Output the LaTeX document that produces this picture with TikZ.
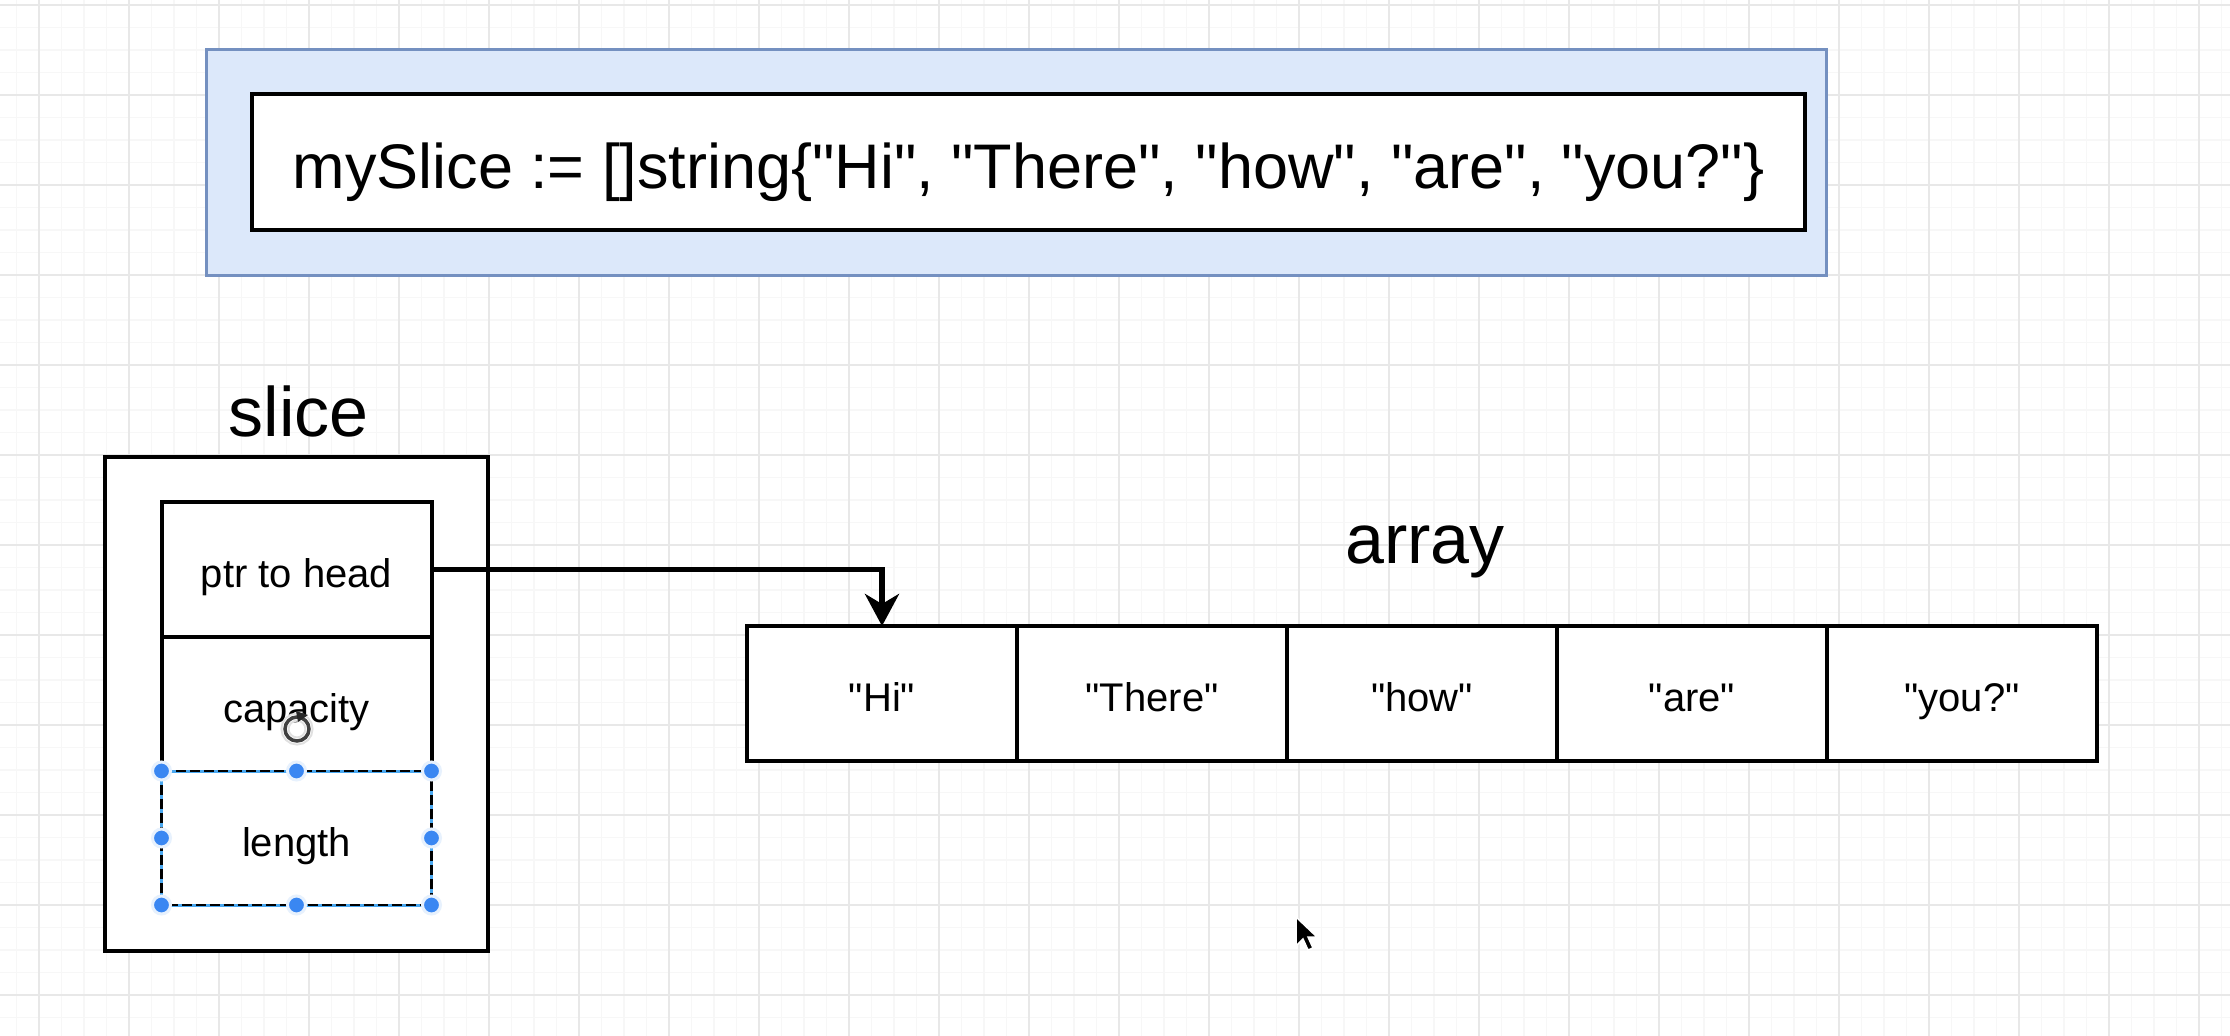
\documentclass[tikz,border=0pt]{standalone}
\usepackage{fontspec}
\setmainfont{Liberation Sans}[Ligatures=TeXOff]
\usetikzlibrary{arrows.meta}
\definecolor{gridmajor}{HTML}{E8E8E8}
\definecolor{gridminor}{HTML}{F7F7F7}
\definecolor{bluefill}{HTML}{DCE8FA}
\definecolor{blueborder}{HTML}{7490C0}
\definecolor{handle}{HTML}{3A87F2}
\definecolor{selblue}{HTML}{4AA8F0}
\begin{document}
\begin{tikzpicture}[x=1pt,y=-1pt,
  box/.style={draw=black, line width=4pt, fill=white, inner sep=0pt, outer sep=0pt, text depth=0pt},
  cell/.style={box, minimum width=270pt, minimum height=135pt, font=\fontsize{40}{46}\selectfont, text height=36.8pt},
  biglabel/.style={font=\fontsize{70}{80}\selectfont, inner sep=0pt},
  ptrarrow/.style={line width=5.5pt, -{Stealth[length=32pt,width=34pt,inset=10pt]}},
  gridminorline/.style={gridminor, line width=1.2pt},
  gridmajorline/.style={gridmajor, line width=2pt},
  handledot/.style={fill=handle, draw=handle!12!white, line width=3pt}
]
\useasboundingbox (0,0) rectangle (2230,1036);
\fill[white] (0,0) rectangle (2230,1036);
% grid
\foreach \i in {0,...,98} \draw[gridminorline] ({16.5+22.5*\i},0) -- ({16.5+22.5*\i},1036);
\foreach \j in {0,...,45} \draw[gridminorline] (0,{5+22.5*\j}) -- (2230,{5+22.5*\j});
\foreach \i in {0,...,24} \draw[gridmajorline] ({39+90*\i},0) -- ({39+90*\i},1036);
\foreach \j in {0,...,11} \draw[gridmajorline] (0,{5+90*\j}) -- (2230,{5+90*\j});

% code box
\node[draw=blueborder, fill=bluefill, line width=3pt, minimum width=1620pt, minimum height=226pt, inner sep=0pt] (codebg) at (1016.5,162) {};
\node[box, minimum width=1553pt, minimum height=136pt, font=\fontsize{63}{72}\selectfont, text height=53.4pt] (code) at (1028.5,162)
  {mySlice := []string\{"Hi", "There", "how", "are", "you?"\}};

% slice
\node[biglabel, anchor=base] (slicelbl) at (298.5,436) {slice};
\node[box, minimum width=383pt, minimum height=494pt] (slice) at (296.5,704) {};
\node[cell] (ptr) at (296.5,569.5) {ptr to head};
\node[cell, minimum height=134pt] (cap) at (296.5,704) {capacity};
\node[cell, minimum height=134pt, draw=none] (len) at (296.5,838) {length};
\draw[white, line width=5pt] ([xshift=-2pt]len.north west) -- ([xshift=2pt]len.north east);
\draw[selblue, line width=3pt] (len.north west) rectangle (len.south east);
\draw[black, line width=2.5pt, dash pattern=on 10pt off 4pt] (len.north west) rectangle (len.south east);
\foreach \p in {north west,north,north east,west,east,south west,south,south east}
  \fill[handledot] (len.\p) circle (9pt);

% rotate cursor
\draw[black!12, line width=9pt] (297,729) circle (12pt);
\draw[white, line width=5pt] (297,729) circle (12pt);
\draw[black!75, line width=3.5pt] (297,729) circle (12pt);
\fill[black!85] (296,711) -- (308,715) -- (298,722) -- cycle;

% array
\node[biglabel, anchor=base] (arraylbl) at (1425,563) {array};
\node[cell] (c1) at (882,693.5) {"Hi"};
\node[cell] (c2) at (1152,693.5) {"There"};
\node[cell] (c3) at (1422,693.5) {"how"};
\node[cell] (c4) at (1692,693.5) {"are"};
\node[cell] (c5) at (1962,693.5) {"you?"};

\draw[ptrarrow] (ptr.east) -| (c1.north);

% mouse pointer
\filldraw[fill=black, draw=white, line width=1.5pt]
  (1296,917) -- (1296,946) -- (1303,939) -- (1308,950) -- (1313,948) -- (1308,937) -- (1317,937) -- cycle;
\end{tikzpicture}
\end{document}
